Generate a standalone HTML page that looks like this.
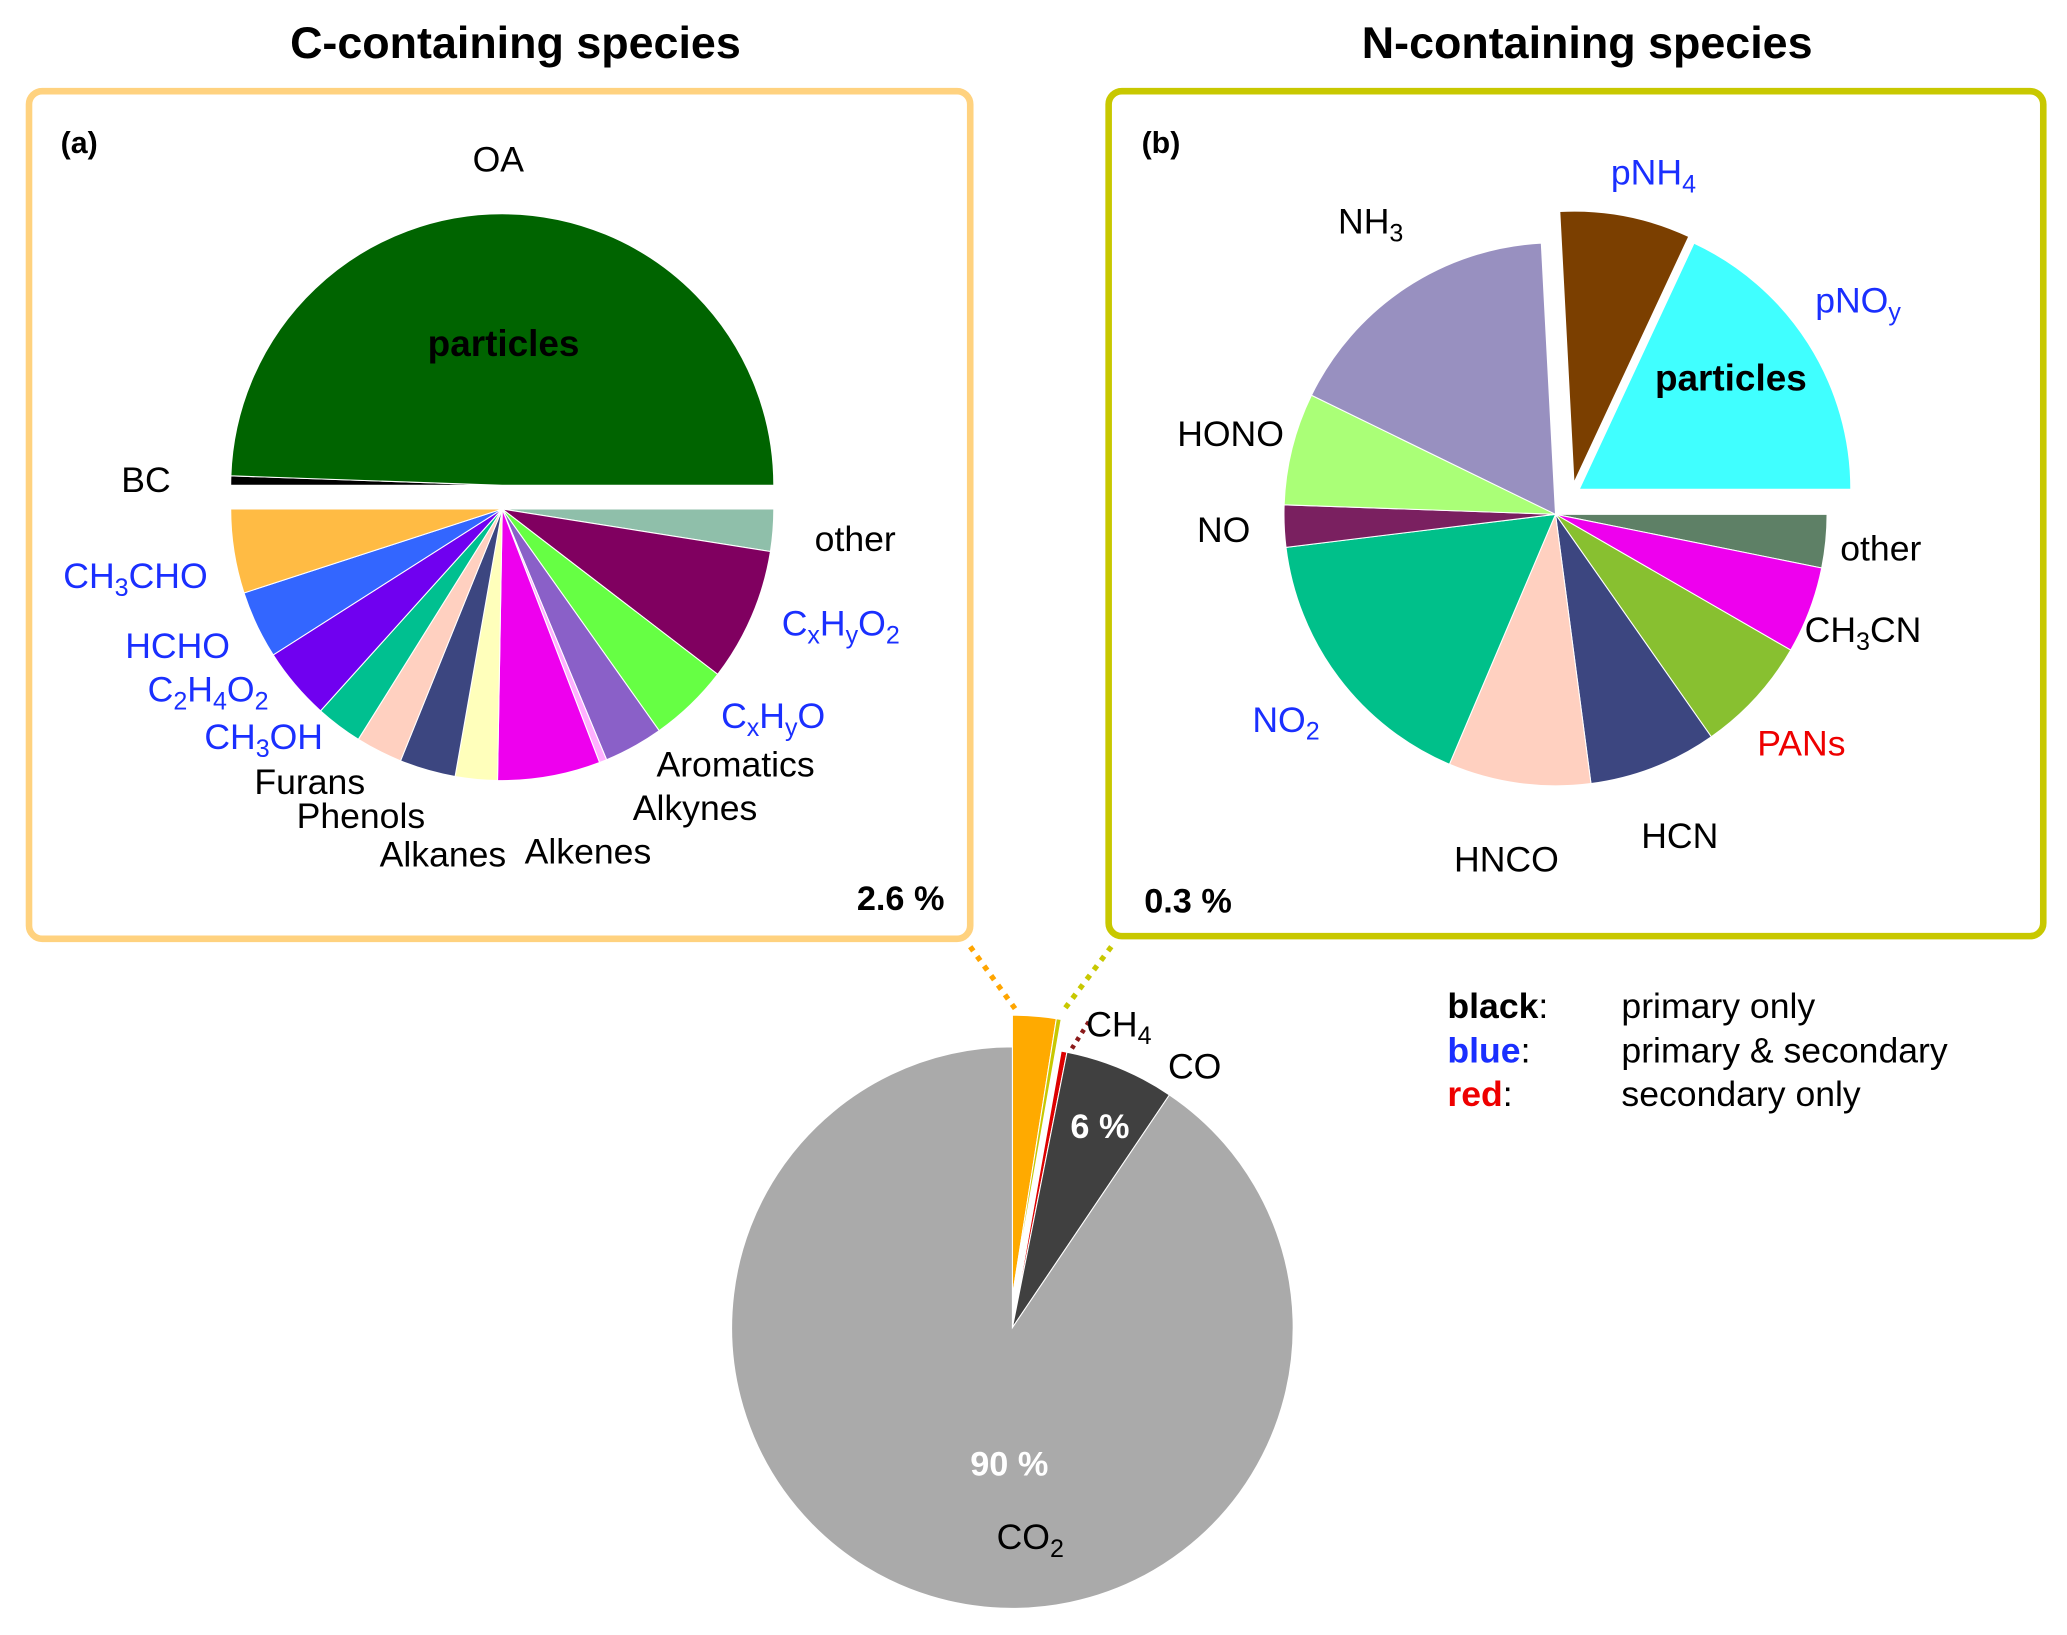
<!DOCTYPE html>
<html><head><meta charset="utf-8">
<style>
html,body{margin:0;padding:0;background:#fff;}
svg{display:block;font-family:"Liberation Sans",Arial,sans-serif;}
.b{fill:#1a2fff}.r{fill:#ee0000}
</style></head>
<body>
<svg id="chart" width="2067" height="1635" viewBox="0 0 1568 1240" xmlns="http://www.w3.org/2000/svg">
<text x="391" y="44" font-size="34" font-weight="bold" text-anchor="middle">C-containing species</text>
<text x="1204" y="44" font-size="34" font-weight="bold" text-anchor="middle">N-containing species</text>
<rect x="22" y="69" width="714" height="643" rx="10" fill="none" stroke="#FFD27F" stroke-width="5"/>
<rect x="841" y="69" width="709" height="641" rx="10" fill="none" stroke="#C8C800" stroke-width="5"/>
<g id="pieA"></g>
<g id="pieB"></g>
<g id="pieC"></g>
<line x1="736" y1="718" x2="770" y2="765" stroke="#FFA500" stroke-width="4" stroke-dasharray="4,5"/>
<line x1="843" y1="718" x2="807" y2="766" stroke="#C8C800" stroke-width="4" stroke-dasharray="4,5"/>
<line x1="826" y1="775" x2="812" y2="797" stroke="#8B1A1A" stroke-width="3.5" stroke-dasharray="3,4"/>
<g font-size="27">
<text x="46" y="116" font-size="23" font-weight="bold">(a)</text>
<text x="866" y="116" font-size="23" font-weight="bold">(b)</text>
<text x="650" y="690" font-size="26" font-weight="bold">2.6 %</text>
<text x="868" y="692" font-size="26" font-weight="bold">0.3 %</text>
<text x="382" y="270" font-size="28" font-weight="bold" text-anchor="middle">particles</text>
<text x="1313" y="296" font-size="28" font-weight="bold" text-anchor="middle">particles</text>
<text x="378" y="130" text-anchor="middle">OA</text>
<text x="92" y="373">BC</text>
<text x="618" y="418">other</text>
<text class="b" x="48" y="446">CH<tspan font-size="19" dy="6">3</tspan><tspan dy="-6">CHO</tspan></text>
<text class="b" x="593" y="482">C<tspan font-size="19" dy="6">x</tspan><tspan dy="-6">H</tspan><tspan font-size="19" dy="6">y</tspan><tspan dy="-6">O</tspan><tspan font-size="19" dy="6">2</tspan></text>
<text class="b" x="95" y="499">HCHO</text>
<text class="b" x="112" y="532">C<tspan font-size="19" dy="6">2</tspan><tspan dy="-6">H</tspan><tspan font-size="19" dy="6">4</tspan><tspan dy="-6">O</tspan><tspan font-size="19" dy="6">2</tspan></text>
<text class="b" x="547" y="552">C<tspan font-size="19" dy="6">x</tspan><tspan dy="-6">H</tspan><tspan font-size="19" dy="6">y</tspan><tspan dy="-6">O</tspan></text>
<text class="b" x="155" y="568">CH<tspan font-size="19" dy="6">3</tspan><tspan dy="-6">OH</tspan></text>
<text x="498" y="589">Aromatics</text>
<text x="193" y="602">Furans</text>
<text x="480" y="622">Alkynes</text>
<text x="225" y="628">Phenols</text>
<text x="288" y="657">Alkanes</text>
<text x="398" y="655">Alkenes</text>
<text class="b" x="1222" y="140">pNH<tspan font-size="19" dy="6">4</tspan></text>
<text x="1015" y="177">NH<tspan font-size="19" dy="6">3</tspan></text>
<text class="b" x="1377" y="237">pNO<tspan font-size="19" dy="6">y</tspan></text>
<text x="893" y="338">HONO</text>
<text x="908" y="411">NO</text>
<text x="1396" y="425">other</text>
<text x="1369" y="487">CH<tspan font-size="19" dy="6">3</tspan><tspan dy="-6">CN</tspan></text>
<text class="b" x="950" y="555">NO<tspan font-size="19" dy="6">2</tspan></text>
<text class="r" x="1333" y="573">PANs</text>
<text x="1245" y="643">HCN</text>
<text x="1103" y="661">HNCO</text>
<text x="824" y="786">CH<tspan font-size="19" dy="6">4</tspan></text>
<text x="886" y="818">CO</text>
<text x="812" y="863" fill="#fff" font-size="26" font-weight="bold">6 %</text>
<text x="736" y="1119" fill="#fff" font-size="26" font-weight="bold">90 %</text>
<text x="756" y="1175">CO<tspan font-size="19" dy="6">2</tspan></text>
<text x="1098" y="772"><tspan font-weight="bold">black</tspan>:</text>
<text x="1230" y="772">primary only</text>
<text x="1098" y="806"><tspan font-weight="bold" fill="#1a2fff">blue</tspan>:</text>
<text x="1230" y="806">primary &amp; secondary</text>
<text x="1098" y="839"><tspan font-weight="bold" fill="#ee0000">red</tspan>:</text>
<text x="1230" y="839">secondary only</text>
</g>
</svg>
<script>
// Pie (a): carbon species, values in degrees-share, clockwise from east
const aCategories = ["other","CxHyO2","CxHyO","Aromatics","Alkynes","Alkenes","Alkanes","Phenols","Furans","CH3OH","C2H4O2","HCHO","CH3CHO","BC","OA"];
const aValues = [9,28.5,17.2,12.7,1.6,22,9,12,10,10,15.5,14.5,18,2,178];
const aColors = ["#8FBFAA","#800060","#66FF44","#8A60C8","#FFB0FF","#EE00EE","#FFFFBB","#3C4680","#FFD0C0","#00C090","#7000F0","#3366FF","#FFBB44","#000000","#006400"];
const aGroup = [0,0,0,0,0,0,0,0,0,0,0,0,0,1,1];
// Pie (b): nitrogen species
const bCategories = ["other","CH3CN","PANs","HCN","HNCO","NO2","NO","HONO","NH3","pNH4","pNOy"];
const bValues = [11.4,18.6,25,27.5,30.5,60,9,24,61,28,65];
const bColors = ["#5E8066","#EE00EE","#88C030","#3C4680","#FFD0C0","#00C08A","#7A2060","#AAFF77","#9890C0","#7B3F00","#40FFFF"];
const bGroup = [0,0,0,0,0,0,0,0,0,2,1];
// Total pie, clockwise from north
const cCategories = ["C-species","N-species","CH4","CO","CO2"];
const cValues = [9,1,1.2,22.8,326];
const cColors = ["#FFAA00","#C8C800","#DD0000","#404040","#AAAAAA"];
const cGroup = [1,1,0,0,0];

const NS="http://www.w3.org/2000/svg";
function drawPie(gid, cats, vals, cols, groups, cx, cy, r, start, offsets){
  const g=document.getElementById(gid);
  const tot=vals.reduce((s,v)=>s+v,0);
  let a=start;
  vals.forEach((v,i)=>{
    const a0=a, a1=a+v/tot*360; a=a1;
    const o=offsets[groups[i]];
    const x=cx+o[0], y=cy+o[1];
    const r0=a0*Math.PI/180, r1=a1*Math.PI/180;
    const large=(a1-a0)>180?1:0;
    const d=`M${x},${y} L${x+r*Math.cos(r0)},${y+r*Math.sin(r0)} A${r},${r} 0 ${large} 1 ${x+r*Math.cos(r1)},${y+r*Math.sin(r1)} Z`;
    const p=document.createElementNS(NS,"path");
    p.setAttribute("d",d);
    p.setAttribute("fill",cols[i]);
    p.setAttribute("stroke","#fff");
    p.setAttribute("stroke-width","0.8");
    
    
    g.appendChild(p);
  });
}
drawPie("pieA",aCategories,aValues,aColors,aGroup,381,386,206,0,[[0,0],[0,-18]]);
drawPie("pieB",bCategories,bValues,bColors,bGroup,1180,390,206,0,[[0,0],[18,-19],[14,-24]]);
drawPie("pieC",cCategories,cValues,cColors,cGroup,768,1007,213,-90,[[0,0],[0,-24]]);
</script>
</body></html>
